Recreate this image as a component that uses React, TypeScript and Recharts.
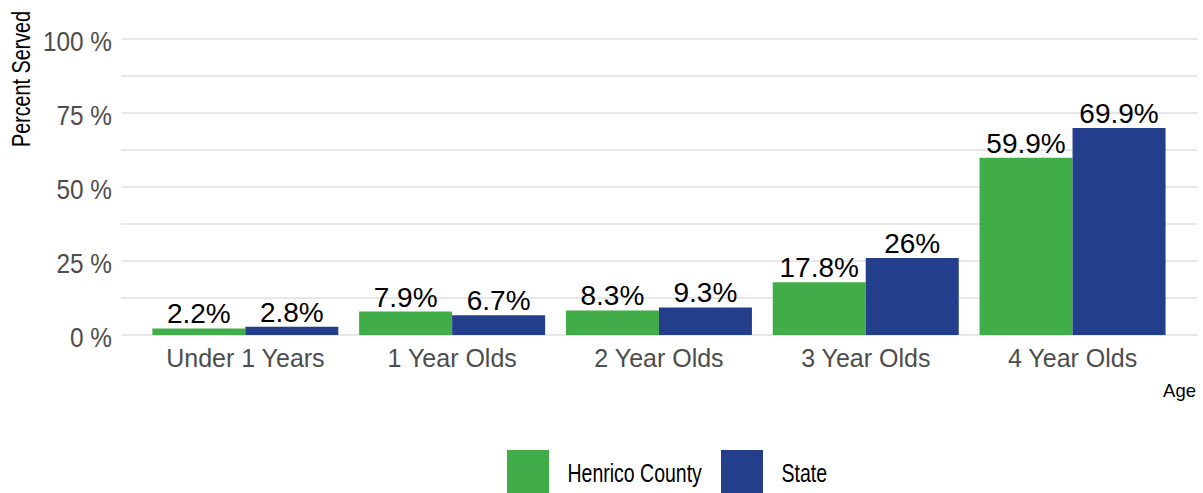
import { BarChart, Bar, XAxis, YAxis, CartesianGrid, LabelList } from 'recharts'

const ageGroups = ['Under 1 Years', '1 Year Olds', '2 Year Olds', '3 Year Olds', '4 Year Olds']
const henricoValues = [2.2, 7.9, 8.3, 17.8, 59.9]
const stateValues = [2.8, 6.7, 9.3, 26, 69.9]
const seriesNames = ['Henrico County', 'State']
const seriesColors = ['#41ad49', '#233f8c']
const yTicks = [0, 12.5, 25, 37.5, 50, 62.5, 75, 87.5, 100]

const chartData = ageGroups.map((age, i) => ({
  age,
  henrico: henricoValues[i],
  state: stateValues[i],
}))

const FONT = '"Liberation Sans", Arial, sans-serif'

// only label the major ticks, the 12.5 steps are just grid lines
function YTick(props: any) {
  const { x, y, payload } = props
  if (payload.value % 25 !== 0) return <g />
  return (
    <g transform={`translate(${x},${y})`}>
      <text transform="scale(0.87,1)" dy="0.42em" textAnchor="end" fontSize={28} fill="#4d4d4d" fontFamily={FONT}>
        {payload.value} %
      </text>
    </g>
  )
}

function XTick(props: any) {
  const { x, y, payload } = props
  return (
    <text x={x} y={y} dy="0.71em" textAnchor="middle" fontSize={25} fill="#4d4d4d" fontFamily={FONT}>
      {payload.value}
    </text>
  )
}

const legendX = [507, 721]

export default function App() {
  return (
    <div style={{ position: 'absolute', left: 0, top: 0, width: 1203, height: 493, background: '#fff', fontFamily: FONT }}>
      <BarChart
        width={1203}
        height={493}
        data={chartData}
        margin={{ top: 39, right: 6, bottom: 98, left: 0 }}
        barCategoryGap="5%"
        barGap={0}
      >
        <CartesianGrid vertical={false} stroke="#cfcfcf" strokeWidth={1} />
        <XAxis
          dataKey="age"
          height={60}
          axisLine={false}
          tickLine={false}
          tickSize={6}
          tickMargin={8}
          padding={{ left: 21, right: 21 }}
          tick={<XTick />}
          interval={0}
        />
        <YAxis
          width={121}
          domain={[0, 100]}
          ticks={yTicks}
          interval={0}
          axisLine={false}
          tickLine={false}
          tickSize={6}
          tickMargin={3}
          tick={<YTick />}
        />
        <Bar dataKey="henrico" name={seriesNames[0]} fill={seriesColors[0]} isAnimationActive={false}>
          <LabelList dataKey="henrico" position="top" offset={5} formatter={(v: any) => `${v}%`} fill="#000" fontSize={28} fontFamily={FONT} />
        </Bar>
        <Bar dataKey="state" name={seriesNames[1]} fill={seriesColors[1]} isAnimationActive={false}>
          <LabelList dataKey="state" position="top" offset={5} formatter={(v: any) => `${v}%`} fill="#000" fontSize={28} fontFamily={FONT} />
        </Bar>
      </BarChart>
      <svg width={1203} height={493} style={{ position: 'absolute', left: 0, top: 0, pointerEvents: 'none' }}>
        <text transform="translate(30,147) rotate(-90) scale(0.79,1)" fontSize={25} fill="#000" fontFamily={FONT}>
          Percent Served
        </text>
        <text x={1196} y={397} textAnchor="end" fontSize={18.5} fill="#000" fontFamily={FONT}>
          Age
        </text>
        {seriesNames.map((name, i) => (
          <g key={name} transform={`translate(${legendX[i]},450)`}>
            <rect x={0} y={0} width={42} height={43} fill={seriesColors[i]} />
            <text transform="translate(60.5,32.3) scale(0.78,1)" fontSize={25} fill="#000" fontFamily={FONT}>
              {name}
            </text>
          </g>
        ))}
      </svg>
    </div>
  )
}
